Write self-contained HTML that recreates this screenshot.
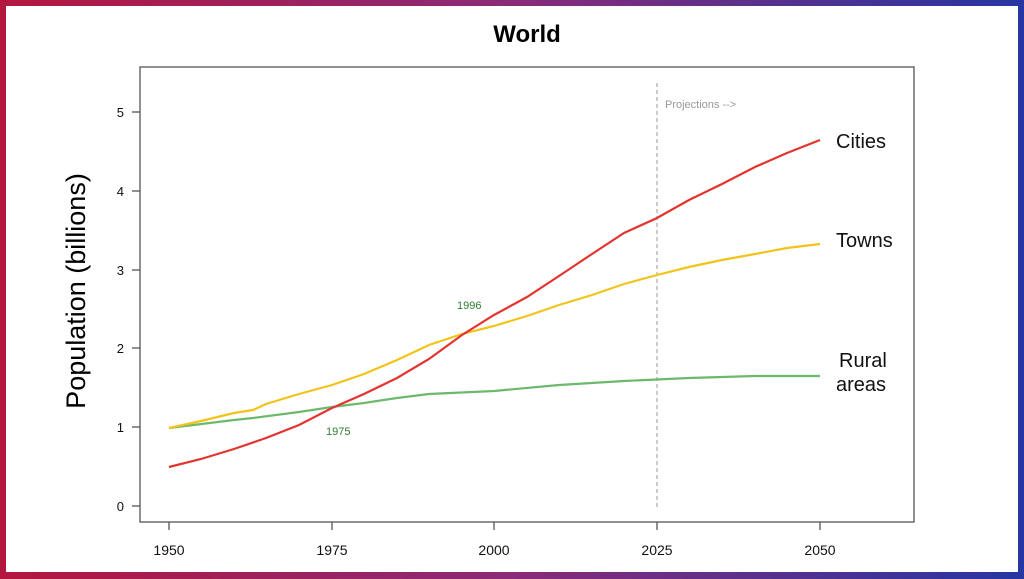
<!DOCTYPE html>
<html><head><style>
html,body{margin:0;padding:0;}
body{width:1024px;height:579px;position:relative;overflow:hidden;background:linear-gradient(90deg,#b3173f 0%,#8a2a78 50%,#2636a3 100%);font-family:"Liberation Sans",Arial,sans-serif;}
#inner{position:absolute;left:6px;top:6px;width:1012px;height:566px;background:#fff;}
svg{position:absolute;left:0;top:0;}
</style></head><body>
<div id="inner"></div>
<svg width="1024" height="579" viewBox="0 0 1024 579" font-family="Liberation Sans, Arial, sans-serif">
<text x="527" y="42" text-anchor="middle" font-size="24" font-weight="bold" fill="#000">World</text>
<rect x="140" y="67" width="774" height="455" fill="none" stroke="#555" stroke-width="1.3"/>
<g stroke="#555" stroke-width="1.3">
<line x1="132" y1="506" x2="140" y2="506"/><line x1="132" y1="427" x2="140" y2="427"/><line x1="132" y1="348" x2="140" y2="348"/><line x1="132" y1="270" x2="140" y2="270"/><line x1="132" y1="191" x2="140" y2="191"/><line x1="132" y1="112" x2="140" y2="112"/>
<line x1="169" y1="522" x2="169" y2="530"/><line x1="332" y1="522" x2="332" y2="530"/><line x1="494" y1="522" x2="494" y2="530"/><line x1="657" y1="522" x2="657" y2="530"/><line x1="820" y1="522" x2="820" y2="530"/>
</g>
<g font-size="13" text-anchor="end" fill="#111">
<text x="124" y="511">0</text><text x="124" y="432">1</text><text x="124" y="353">2</text><text x="124" y="275">3</text><text x="124" y="196">4</text><text x="124" y="117">5</text>
</g>
<g font-size="14" text-anchor="middle" fill="#111">
<text x="169" y="555">1950</text><text x="332" y="555">1975</text><text x="494" y="555">2000</text><text x="657" y="555">2025</text><text x="820" y="555">2050</text>
</g>
<text transform="translate(85,291) rotate(-90)" text-anchor="middle" font-size="27" fill="#000">Population (billions)</text>
<line x1="657" y1="83" x2="657" y2="507" stroke="#aaa" stroke-width="1.2" stroke-dasharray="4,3"/>
<text x="665" y="108" font-size="11" fill="#999">Projections --&gt;</text>
<polyline fill="none" stroke="#6cb96e" stroke-width="2.2" points="169,428 234,420 253,418 299,412 332,407 364,403 397,398 429,394 494,391 559,385 624,381 689,378 755,376 820,376"/>
<polyline fill="none" stroke="#f2c318" stroke-width="2.2" points="169,428 201,421 234,413 253,410 266,404 299,394 332,385 364,374 397,360 429,345 462,334 494,326 527,316 559,305 592,295 624,284 657,275 689,267 722,260 755,254 787,248 820,244"/>
<polyline fill="none" stroke="#e3342f" stroke-width="2.2" points="169,467 201,459 234,449 266,438 299,425 332,408 364,394 397,378 429,359 462,335 494,315 527,297 559,276 592,254 624,233 657,218 689,200 722,184 755,167 787,153 820,140"/>
<text x="457" y="309" font-size="11" fill="#2e7d32">1996</text>
<text x="326" y="435" font-size="11" fill="#2e7d32">1975</text>
<g font-size="20" fill="#111">
<text x="836" y="148">Cities</text>
<text x="836" y="247">Towns</text>
<text x="839" y="367">Rural</text>
<text x="836" y="391">areas</text>
</g>
</svg>
</body></html>
